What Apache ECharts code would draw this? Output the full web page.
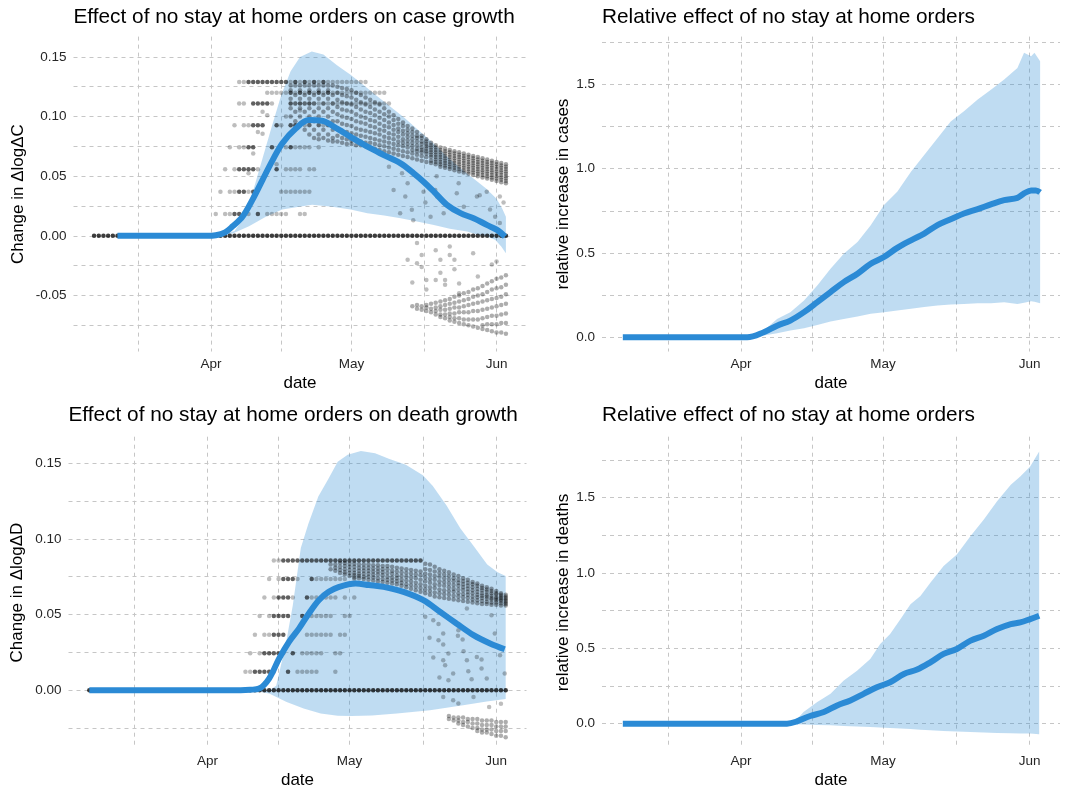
<!DOCTYPE html>
<html><head><meta charset="utf-8">
<script src="https://cdn.jsdelivr.net/npm/echarts@6/dist/echarts.min.js"></script>
<style>html,body{margin:0;padding:0;background:#fff}#c{width:1065px;height:795px}</style>
</head><body><div id="c"></div>
<script>
// x values are day numbers: 0 = 1 March 2020
const monthDays = [31, 61, 92];
const monthLabels = ['Apr', 'May', 'Jun'];
const gridDays = [15.5, 31, 46, 61, 76.5, 92];
const allDays = [6,7,8,9,10,11,12,13,14,15,16,17,18,19,20,21,22,23,24,25,26,27,28,29,30,31,32,33,34,35,36,37,38,39,40,41,42,43,44,45,46,47,48,49,50,51,52,53,54,55,56,57,58,59,60,61,62,63,64,65,66,67,68,69,70,71,72,73,74,75,76,77,78,79,80,81,82,83,84,85,86,87,88,89,90,91,92,93,94];

const titles = ['Effect of no stay at home orders on case growth', 'Relative effect of no stay at home orders', 'Effect of no stay at home orders on death growth', 'Relative effect of no stay at home orders'];
const yNames = ['Change in \u0394log\u0394C', 'relative increase in cases', 'Change in \u0394log\u0394D', 'relative increase in deaths'];

// ---------- Panel 1: case growth ----------
const caseLineDays = [11, 20, 30, 32, 34, 35.6, 37.7, 39.8, 42, 44.1, 46.2, 49.1, 51.9, 54.7, 57.3, 60.8, 64.4, 67.9, 71.5, 74.3, 76.4, 78.6, 81.4, 84.3, 87.1, 89.9, 92.1, 93.8];
const caseLineVals = [0, 0, 0, 0.0005, 0.003, 0.008, 0.016, 0.030, 0.047, 0.063, 0.0775, 0.090, 0.097, 0.0965, 0.0914, 0.083, 0.0747, 0.0677, 0.0608, 0.0524, 0.0454, 0.0371, 0.026, 0.019, 0.0148, 0.0092, 0.005, -0.0006];
const caseUpDays = [11, 33, 36, 38, 40, 42, 44, 46, 48, 50, 52.5, 55, 57.9, 60.8, 63.7, 66.5, 69.4, 72.3, 75.2, 78.1, 81, 83.9, 86.8, 89.7, 92, 93.2, 94];
const caseUpVals = [0, 0.0005, 0.004, 0.015, 0.038, 0.065, 0.092, 0.118, 0.138, 0.150, 0.1545, 0.152, 0.143, 0.135, 0.126, 0.117, 0.108, 0.099, 0.089, 0.079, 0.068, 0.058, 0.049, 0.040, 0.031, 0.023, 0.016];
const caseLoDays = [11, 33, 35.6, 39.1, 42.7, 46.2, 49.8, 52.6, 56.9, 60.8, 64.4, 68, 71.5, 75, 78.6, 82, 85.7, 88, 89.9, 91.7, 93, 94];
const caseLoVals = [0, 0, 0.002, 0.008, 0.016, 0.022, 0.0245, 0.026, 0.0245, 0.022, 0.019, 0.017, 0.0148, 0.012, 0.0092, 0.006, 0.0036, 0.001, -0.0006, -0.0033, -0.009, -0.0145];
const caseRowLevels = [0.129, 0.120, 0.111, 0.0928, 0.0742, 0.0558, 0.037, 0.0184];
const caseRowDark = [
  [39,40,41,42,43,44,45,46,47,49,51,53,55],
  [48,50,52,54,56],
  [40,41,42,43,48,50,52],
  [40,41,42,45,48,49,50],
  [39,40,44,48],
  [37,38,39,40,45],
  [37,38,40],
  [36,37,41]];
const caseRowLight = [
  [37,38,48,50,52,54,56,57,58,59,60,61,62,63,64],
  [43,44,45,46,47,49,51,53,55,57,58,59,60,61,62,63,64,65,66,67,68],
  [37,38,44,49,51,53,54,55,56,57,58,59,60,61,62,63,64,65,66,67,68,69],
  [36,38,39,46,51,52,54,55,56,57],
  [35,37,38,47,49,50,51,52,54],
  [34,36,41,47,48,49,50,52,53],
  [33,35,36,39,46,47,48,49,50,51,52],
  [32,34,35,39,43,44,45,46,47,50,51]];
const caseBandDays = [48,49,50,51,52,53,54,55,56,57,58,59,60,61,62,63,64,65,66,67,68,69,70,71,72,73,74,75,76,77,78,79,80,81,82,83,84,85,86,87,88,89,90,91,92,93,94];
const caseBandVals = [
  [0.126,0.122,0.115,0.107,0.100],
  [0.126,0.118,0.111,0.104,0.096],
  [0.126,0.122,0.115,0.107,0.100,0.093],
  [0.126,0.118,0.111,0.104,0.096,0.089],
  [0.126,0.122,0.115,0.107,0.100,0.093,0.085],
  [0.126,0.118,0.111,0.104,0.096,0.089,0.082],
  [0.126,0.122,0.115,0.107,0.100,0.093,0.085,0.081],
  [0.126,0.118,0.111,0.104,0.096,0.089,0.082],
  [0.126,0.122,0.115,0.107,0.100,0.093,0.085,0.080],
  [0.126,0.118,0.111,0.104,0.096,0.089,0.082,0.079],
  [0.125,0.120,0.114,0.108,0.102,0.096,0.090,0.084,0.079],
  [0.124,0.118,0.112,0.106,0.100,0.094,0.088,0.082,0.078],
  [0.123,0.117,0.111,0.105,0.099,0.093,0.087,0.081,0.077],
  [0.122,0.116,0.110,0.104,0.098,0.092,0.086,0.080,0.077],
  [0.120,0.114,0.108,0.102,0.096,0.090,0.085,0.080,0.076],
  [0.118,0.112,0.106,0.100,0.095,0.089,0.084,0.079,0.076],
  [0.116,0.110,0.104,0.099,0.094,0.088,0.083,0.078,0.075],
  [0.114,0.108,0.103,0.097,0.092,0.087,0.082,0.078,0.074],
  [0.112,0.106,0.101,0.096,0.091,0.086,0.081,0.077,0.073],
  [0.110,0.104,0.099,0.094,0.089,0.085,0.080,0.076,0.072],
  [0.107,0.102,0.097,0.092,0.088,0.083,0.079,0.075,0.071],
  [0.104,0.100,0.095,0.091,0.086,0.082,0.078,0.074,0.070],
  [0.101,0.097,0.093,0.089,0.085,0.081,0.077,0.073,0.069],
  [0.098,0.094,0.090,0.087,0.083,0.079,0.076,0.072,0.068],
  [0.095,0.092,0.088,0.085,0.081,0.078,0.075,0.071,0.067],
  [0.092,0.089,0.086,0.083,0.080,0.077,0.074,0.070,0.066],
  [0.090,0.087,0.084,0.081,0.078,0.075,0.072,0.069,0.065],
  [0.087,0.084,0.082,0.079,0.076,0.073,0.071,0.068,0.064],
  [0.084,0.082,0.079,0.077,0.074,0.072,0.070,0.067,0.063],
  [0.081,0.079,0.077,0.075,0.073,0.071,0.069,0.066,0.062],
  [0.078,0.076,0.074,0.072,0.070,0.068,0.066,0.063,0.061],
  [0.076,0.074,0.072,0.070,0.068,0.066,0.064,0.062,0.060],
  [0.074,0.072,0.070,0.068,0.066,0.064,0.062,0.060,0.058],
  [0.073,0.071,0.069,0.067,0.065,0.063,0.061,0.059,0.057],
  [0.072,0.070,0.068,0.066,0.064,0.062,0.060,0.058,0.056],
  [0.071,0.069,0.067,0.065,0.063,0.061,0.059,0.057,0.055],
  [0.070,0.068,0.066,0.064,0.062,0.060,0.058,0.056,0.054],
  [0.069,0.067,0.065,0.063,0.061,0.059,0.057,0.055,0.053],
  [0.068,0.066,0.064,0.062,0.060,0.058,0.056,0.054,0.052],
  [0.067,0.065,0.063,0.061,0.059,0.057,0.055,0.053,0.051],
  [0.066,0.064,0.062,0.060,0.058,0.056,0.054,0.052,0.050],
  [0.065,0.063,0.061,0.059,0.057,0.055,0.053,0.051,0.049],
  [0.064,0.062,0.060,0.058,0.056,0.054,0.052,0.050,0.048],
  [0.063,0.061,0.059,0.057,0.055,0.053,0.051,0.049,0.047],
  [0.062,0.060,0.058,0.056,0.054,0.052,0.050,0.048,0.046],
  [0.061,0.059,0.057,0.055,0.053,0.051,0.049,0.047,0.045],
  [0.060,0.058,0.056,0.054,0.052,0.050,0.048,0.046,0.044]];
const caseSparseDays = [42,43,41,42,40,39,45,47,50,69,70,71.8,72.5,73.9,76.4,76.8,77.9,78.9,79.3,80.7,83.9,85,87.8,89.9,90.6,91.7,92.7,92.7,93.5,73,71.4,74.2,79.2,83.5,88.4,
  75,76,73,75,76,74,77,77,79,80,80,79,81,81,82,82,83,83,84,87,88,84,91,92];
const caseSparseVals = [0.104,0.101,0.087,0.0855,0.069,0.0525,0.060,0.100,0.105,0.058,0.0385,0.0525,0.033,0.0218,0.037,0.028,0.016,0.0385,0.033,0.019,0.0441,0.0245,0.033,0.037,0.022,0.016,0.033,0.0107,0.028,0.044,0.019,0.013,0.050,0.0357,0.034,
  -0.006,-0.016,-0.020,-0.023,-0.026,-0.039,-0.037,-0.045,-0.012,-0.020,-0.031,-0.037,-0.037,-0.041,-0.009,-0.016,-0.020,-0.028,-0.040,-0.0145,-0.034,-0.048,-0.024,-0.0215];
const caseNegDays = [74,75,76,77,78,79,80,81,82,83,84,85,86,87,88,89,90,91,92,93,94];
const caseNegVals = [
  [-0.059],
  [-0.058,-0.061],
  [-0.059,-0.062],
  [-0.058,-0.060,-0.063],
  [-0.057,-0.061,-0.064],
  [-0.056,-0.060,-0.063,-0.066],
  [-0.055,-0.059,-0.062,-0.066,-0.068],
  [-0.054,-0.058,-0.062,-0.066,-0.069],
  [-0.053,-0.057,-0.061,-0.065,-0.068,-0.071],
  [-0.051,-0.056,-0.060,-0.065,-0.069,-0.072],
  [-0.050,-0.055,-0.060,-0.064,-0.069,-0.073],
  [-0.048,-0.054,-0.059,-0.064,-0.070,-0.074],
  [-0.047,-0.053,-0.058,-0.064,-0.070,-0.075],
  [-0.045,-0.051,-0.057,-0.063,-0.070,-0.076],
  [-0.044,-0.050,-0.056,-0.063,-0.070,-0.077],
  [-0.042,-0.049,-0.055,-0.062,-0.069,-0.075,-0.078],
  [-0.040,-0.047,-0.054,-0.061,-0.068,-0.074,-0.079],
  [-0.038,-0.045,-0.053,-0.060,-0.067,-0.074,-0.080],
  [-0.036,-0.044,-0.052,-0.059,-0.067,-0.074,-0.081],
  [-0.035,-0.043,-0.051,-0.058,-0.066,-0.073,-0.081],
  [-0.033,-0.041,-0.049,-0.057,-0.065,-0.073,-0.082]];

// ---------- Panel 2: relative cases ----------
const relCaseLineDays = [6, 20, 32.3, 35.8, 38.6, 41.4, 44.3, 47.1, 49.9, 52.7, 55.6, 58.4, 61.2, 64.0, 66.9, 69.7, 72.5, 75.3, 78.1, 81.0, 83.8, 86.6, 89.4, 90.8, 92.3, 93.3, 94.2];
const relCaseLineVals = [0, 0, 0, 0.030, 0.069, 0.099, 0.149, 0.208, 0.268, 0.327, 0.377, 0.436, 0.476, 0.530, 0.575, 0.615, 0.665, 0.700, 0.734, 0.760, 0.788, 0.813, 0.827, 0.853, 0.871, 0.871, 0.859];
const relCaseBandDays = [6, 32.3, 33, 35.8, 38.6, 41.4, 44.3, 47.1, 49.9, 52.7, 55.6, 58.4, 61.2, 64.0, 66.9, 69.7, 72.5, 75.3, 78.1, 81.0, 83.8, 86.6, 89.4, 90.8, 92.3, 93.0, 94.2];
const relCaseUpVals = [0, 0, 0.01, 0.04, 0.109, 0.149, 0.218, 0.307, 0.406, 0.496, 0.565, 0.665, 0.784, 0.863, 0.982, 1.081, 1.18, 1.28, 1.34, 1.41, 1.468, 1.528, 1.597, 1.687, 1.667, 1.687, 1.637];
const relCaseLoVals = [0, 0, 0.003, 0.01, 0.024, 0.040, 0.054, 0.073, 0.093, 0.109, 0.123, 0.139, 0.149, 0.159, 0.169, 0.179, 0.188, 0.194, 0.198, 0.202, 0.202, 0.208, 0.198, 0.205, 0.214, 0.21, 0.202];

// ---------- Panel 3: death growth ----------
const deathLineDays = [6, 20, 38, 40, 41.9, 44, 46.1, 48.2, 50.3, 52.4, 54.5, 56.6, 58.8, 62.3, 65.1, 68.2, 72.4, 76.6, 80.1, 83.6, 87.2, 90.7, 93.8];
const deathLineVals = [0, 0, 0, 0.0003, 0.0011, 0.0077, 0.0209, 0.032, 0.0407, 0.0507, 0.0595, 0.065, 0.0683, 0.0705, 0.0695, 0.0683, 0.065, 0.0595, 0.0518, 0.0441, 0.0364, 0.0309, 0.0271];
const deathUpDays = [6, 44, 45.5, 47.5, 49, 50.7, 52.3, 54.4, 56.6, 58.5, 60.6, 63.4, 66.4, 69.3, 72.9, 76.5, 78.6, 81.5, 84.4, 87.3, 90.1, 92.3, 94];
const deathUpVals = [0, 0, 0.003, 0.030, 0.056, 0.094, 0.110, 0.128, 0.140, 0.151, 0.1555, 0.158, 0.1566, 0.153, 0.149, 0.142, 0.135, 0.122, 0.107, 0.095, 0.083, 0.078, 0.0755];
const deathLoDays = [6, 40, 44, 47.7, 51.3, 54.9, 58.5, 61.4, 65.7, 71, 78, 85, 90, 94];
const deathLoVals = [0, 0, -0.0022, -0.0077, -0.012, -0.0153, -0.0169, -0.0171, -0.0167, -0.0154, -0.0132, -0.0099, -0.0075, -0.0058];
const deathRowLevels = [0.0857, 0.0735, 0.0612, 0.049, 0.0367, 0.0245, 0.0122];
const deathRowDark = [
  [47,48,49,50,51,52,53,54,55,56,57,58,59,60,61,62,63,64,65,66,67,68,69,70,71,72,73,74,75,76],
  [47,48,49,53],
  [46,47,48,52],
  [45,46,47,48,51],
  [45,46,47],
  [43,44,45,46,49],
  [41,42,43,44,48]];
const deathRowLight = [
  [45,46],
  [44,46,50,54,55,56,57,58,59,60,62],
  [43,45,49,53,54,55,56,57,58,60,62],
  [42,44,53,54,55,56,57,60,61],
  [41,43,44,52,53,54,55,56,57,59,60],
  [40,42,47,51,52,53,54,55,58,59],
  [39,40,45,50,51,52,53,54,58]];
const deathBandDays = [57,58,59,60,61,62,63,64,65,66,67,68,69,70,71,72,73,74,75,76,77,78,79,80,81,82,83,84,85,86,87,88,89,90,91,92,93,94];
const deathBandVals = [
  [0.083,0.080],
  [0.083,0.081,0.079],
  [0.084,0.0815,0.0795,0.0775],
  [0.084,0.082,0.080,0.078,0.0765],
  [0.0835,0.0815,0.0795,0.0775,0.0755],
  [0.0835,0.0815,0.0795,0.0775,0.076,0.0745],
  [0.083,0.081,0.079,0.077,0.0755,0.074],
  [0.083,0.081,0.079,0.077,0.075,0.0735],
  [0.083,0.081,0.079,0.077,0.075,0.073],
  [0.0825,0.0805,0.0785,0.0765,0.0745,0.0725],
  [0.0825,0.0805,0.0785,0.0765,0.074,0.072],
  [0.082,0.080,0.078,0.076,0.0735,0.0715],
  [0.082,0.080,0.0775,0.075,0.073,0.071],
  [0.0815,0.079,0.077,0.0745,0.0725,0.0705],
  [0.081,0.0785,0.076,0.074,0.072,0.070],
  [0.0805,0.078,0.0755,0.073,0.071,0.069],
  [0.080,0.0775,0.075,0.0725,0.070,0.068],
  [0.0795,0.077,0.0745,0.072,0.0695,0.067],
  [0.079,0.0765,0.074,0.071,0.0685,0.066],
  [0.0785,0.076,0.073,0.070,0.0675,0.065],
  [0.0835,0.080,0.077,0.0745,0.072,0.069,0.0665,0.064],
  [0.083,0.0795,0.0765,0.0735,0.071,0.068,0.0655,0.063],
  [0.0815,0.0785,0.0755,0.073,0.070,0.0675,0.0645,0.062],
  [0.080,0.0775,0.075,0.072,0.0695,0.0665,0.064,0.0615],
  [0.079,0.0765,0.074,0.0715,0.069,0.066,0.0635,0.061],
  [0.078,0.0755,0.073,0.0705,0.068,0.0655,0.063,0.0605],
  [0.0765,0.074,0.072,0.0695,0.067,0.065,0.0625,0.060],
  [0.0755,0.073,0.071,0.069,0.0665,0.064,0.062,0.0595],
  [0.074,0.072,0.070,0.068,0.066,0.0635,0.0615,0.059],
  [0.073,0.071,0.069,0.067,0.065,0.063,0.061,0.0585],
  [0.0715,0.070,0.068,0.066,0.064,0.062,0.060,0.058],
  [0.0705,0.069,0.067,0.065,0.063,0.0615,0.0595,0.0575],
  [0.069,0.0675,0.066,0.064,0.0625,0.061,0.059,0.057],
  [0.068,0.0665,0.065,0.063,0.062,0.0605,0.0585,0.057],
  [0.067,0.0655,0.064,0.0625,0.061,0.060,0.058,0.0565],
  [0.0655,0.064,0.063,0.0615,0.0605,0.0595,0.058,0.0565],
  [0.064,0.063,0.062,0.061,0.060,0.059,0.0575,0.056],
  [0.063,0.062,0.061,0.060,0.059,0.058,0.057,0.056]];
const deathSparseDays = [77,78.7,79.8,77.9,79.8,80.8,80.8,78.7,80.8,81.9,81.2,80,81.9,82.9,84,83.9,84.9,85.8,85.1,85.8,86.1,86.8,87.9,88.9,88.9,90,91,91.7,92.8,93.8,80.8,82.9,84,87.2,90.5,93];
const deathSparseVals = [0.0485,0.0463,0.0437,0.0346,0.0331,0.0375,0.0302,0.0216,0.0198,0.0242,0.0165,0.0084,0.0066,0.0110,0.0397,0.036,0.0335,0.054,0.0258,0.0198,0.0126,0.0073,0.022,0.0203,0.0143,0.0077,0.0496,0.0375,0.0231,0.0110,-0.0044,-0.0066,-0.0088,-0.0044,-0.011,-0.009];
const deathNegDays = [82,83,84,85,86,87,88,89,90,91,92,93,94];
const deathNegVals = [
  [-0.017,-0.019],
  [-0.018,-0.020],
  [-0.018,-0.020,-0.022],
  [-0.018,-0.021,-0.023],
  [-0.019,-0.021,-0.024],
  [-0.019,-0.022,-0.025],
  [-0.019,-0.022,-0.025,-0.027],
  [-0.020,-0.023,-0.026,-0.028],
  [-0.020,-0.023,-0.026,-0.028],
  [-0.020,-0.023,-0.026,-0.029],
  [-0.021,-0.024,-0.027,-0.030],
  [-0.021,-0.024,-0.027,-0.030],
  [-0.021,-0.024,-0.027,-0.031]];

// ---------- Panel 4: relative deaths ----------
const relDeathLineDays = [6, 20, 40.7, 42.8, 45.6, 48.5, 51.3, 54.1, 56.9, 59.7, 62.5, 65.4, 68.2, 71.0, 73.8, 76.6, 79.5, 82.3, 85.1, 88.0, 90.0, 92.1, 94.0];
const relDeathLineVals = [0, 0, 0, 0.015, 0.051, 0.077, 0.121, 0.154, 0.198, 0.242, 0.275, 0.330, 0.359, 0.407, 0.463, 0.496, 0.551, 0.584, 0.628, 0.661, 0.672, 0.694, 0.716];
const relDeathBandDays = [6, 40.7, 42.8, 44.2, 47.1, 49.9, 52.7, 55.5, 58.3, 60.4, 62.5, 64.7, 66.8, 68.9, 71.0, 73.8, 76.6, 79.5, 82.3, 85.1, 88.0, 90.0, 92.1, 94.0];
const relDeathUpVals = [0, 0, 0.03, 0.077, 0.143, 0.198, 0.286, 0.352, 0.430, 0.529, 0.595, 0.694, 0.793, 0.848, 0.936, 1.046, 1.123, 1.245, 1.355, 1.476, 1.586, 1.641, 1.707, 1.806];
const relDeathLoVals = [0, -0.002, -0.004, -0.006, -0.009, -0.011, -0.015, -0.019, -0.022, -0.026, -0.029, -0.033, -0.036, -0.040, -0.044, -0.048, -0.052, -0.055, -0.058, -0.062, -0.064, -0.065, -0.066, -0.070];

// ---------- build ----------
const FONT = "'Liberation Sans', Arial, Helvetica, sans-serif";
const BLUE = '#2b8ad5';
const RIBBON = 'rgba(43,138,213,0.30)';
const pairs = (xs, ys) => xs.map((x, i) => [x, ys[i]]);
const rowsToPts = (levels, lists) => { const o = []; levels.forEach((v, i) => lists[i].forEach(d => o.push([d, v]))); return o; };
const colsToPts = (days, vals) => { const o = []; days.forEach((d, i) => vals[i].forEach(v => o.push([d, v]))); return o; };

const grids = [
  {left: 73.5, top: 36.6, width: 453, height: 315},
  {left: 602, top: 36.6, width: 458, height: 315},
  {left: 68.5, top: 436.7, width: 458, height: 311.8},
  {left: 602, top: 436.7, width: 458, height: 311.8}
];
const yCfg = [
  {min: -0.097, max: 0.167, ticks: [-0.075,-0.05,-0.025,0,0.025,0.05,0.075,0.1,0.125,0.15], labels: [-0.05,0,0.05,0.1,0.15], dec: 2, gap: 47},
  {min: -0.085, max: 1.783, ticks: [0,0.25,0.5,0.75,1,1.25,1.5,1.75], labels: [0,0.5,1,1.5], dec: 1, gap: 30},
  {min: -0.0385, max: 0.1675, ticks: [-0.025,0,0.025,0.05,0.075,0.1,0.125,0.15], labels: [0,0.05,0.1,0.15], dec: 2, gap: 43},
  {min: -0.165, max: 1.905, ticks: [0,0.25,0.5,0.75,1,1.25,1.5,1.75], labels: [0,0.5,1,1.5], dec: 1, gap: 30}
];
const splitLine = {show: true, lineStyle: {color: '#c6c6c6', width: 1, type: [4, 4]}};

const xAxes = grids.map((g, i) => ({
  type: 'value', gridIndex: i, min: 1.6, max: 98.4,
  axisLine: {show: false}, axisTick: {show: false, customValues: gridDays},
  axisLabel: {customValues: monthDays, margin: 6, fontFamily: FONT, fontSize: 13.5, color: '#262626',
    formatter: v => monthLabels[monthDays.indexOf(v)] || ''},
  splitLine: splitLine,
  name: 'date', nameLocation: 'middle', nameGap: 23,
  nameTextStyle: {fontFamily: FONT, fontSize: 17, color: '#000'}
}));
const yAxes = grids.map((g, i) => ({
  type: 'value', gridIndex: i, min: yCfg[i].min, max: yCfg[i].max,
  axisLine: {show: false}, axisTick: {show: false, customValues: yCfg[i].ticks},
  axisLabel: {customValues: yCfg[i].labels, margin: 7, fontFamily: FONT, fontSize: 13.5, color: '#262626',
    formatter: v => v.toFixed(yCfg[i].dec)},
  splitLine: splitLine,
  name: yNames[i], nameLocation: 'middle', nameGap: yCfg[i].gap,
  nameTextStyle: {fontFamily: FONT, fontSize: 17, color: '#000'}
}));

function ribbon(i, upD, upV, loD, loV) {
  return {
    type: 'custom', xAxisIndex: i, yAxisIndex: i, silent: true, z: 1, clip: true,
    data: [[upD[0], upV[0]]],
    renderItem: (params, api) => {
      const pts = [];
      for (let k = 0; k < upD.length; k++) pts.push(api.coord([upD[k], upV[k]]));
      for (let k = loD.length - 1; k >= 0; k--) pts.push(api.coord([loD[k], loV[k]]));
      return {type: 'polygon', shape: {points: pts}, style: {fill: RIBBON}};
    }
  };
}
function dots(i, data, alpha, z) {
  return {type: 'scatter', xAxisIndex: i, yAxisIndex: i, data: data, symbol: 'circle', symbolSize: 4.5,
    itemStyle: {color: 'rgba(0,0,0,' + alpha + ')'}, silent: true, z: z || 2};
}
function meanLine(i, d, v) {
  return {type: 'line', xAxisIndex: i, yAxisIndex: i, data: pairs(d, v), showSymbol: false, symbol: 'none',
    smooth: 0.35, lineStyle: {color: BLUE, width: 6}, silent: true, z: 5};
}

const series = [
  ribbon(0, caseUpDays, caseUpVals, caseLoDays, caseLoVals),
  dots(0, rowsToPts(caseRowLevels, caseRowLight), 0.32),
  dots(0, rowsToPts(caseRowLevels, caseRowDark), 0.78),
  dots(0, colsToPts(caseBandDays, caseBandVals), 0.45),
  dots(0, pairs(caseSparseDays, caseSparseVals), 0.32),
  dots(0, colsToPts(caseNegDays, caseNegVals), 0.4),
  dots(0, allDays.map(d => [d, 0]), 0.95, 3),
  meanLine(0, caseLineDays, caseLineVals),

  ribbon(1, relCaseBandDays, relCaseUpVals, relCaseBandDays, relCaseLoVals),
  meanLine(1, relCaseLineDays, relCaseLineVals),

  ribbon(2, deathUpDays, deathUpVals, deathLoDays, deathLoVals),
  dots(2, rowsToPts(deathRowLevels, deathRowLight), 0.32),
  dots(2, rowsToPts(deathRowLevels, deathRowDark), 0.78),
  dots(2, colsToPts(deathBandDays, deathBandVals), 0.45),
  dots(2, pairs(deathSparseDays, deathSparseVals), 0.32),
  dots(2, colsToPts(deathNegDays, deathNegVals), 0.4),
  dots(2, allDays.map(d => [d, 0]), 0.95, 3),
  meanLine(2, deathLineDays, deathLineVals),

  ribbon(3, relDeathBandDays, relDeathUpVals, relDeathBandDays, relDeathLoVals),
  meanLine(3, relDeathLineDays, relDeathLineVals)
];

const titleCfg = titles.map((t, i) => ({
  text: t, left: grids[i].left, top: i < 2 ? 7 : 405, padding: 0,
  textStyle: {fontFamily: FONT, fontSize: 20.8, fontWeight: 'normal', color: '#000'}
}));

const chart = echarts.init(document.getElementById('c'));
chart.setOption({
  animation: false,
  backgroundColor: '#fff',
  title: titleCfg,
  grid: grids,
  xAxis: xAxes,
  yAxis: yAxes,
  series: series
});
</script>
</body></html>
